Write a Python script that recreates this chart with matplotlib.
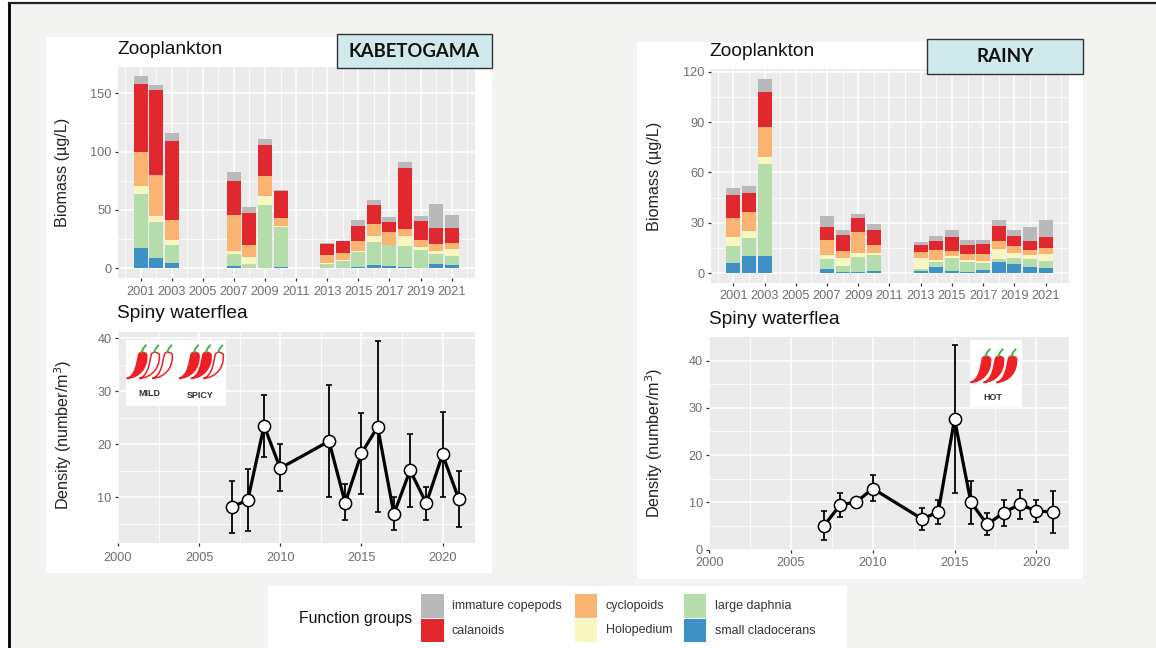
import matplotlib

matplotlib.use("Agg")
import matplotlib.pyplot as plt
import numpy as np
from matplotlib.patches import PathPatch, Rectangle
from matplotlib.path import Path
from matplotlib.transforms import blended_transform_factory

W, H = 1156, 648

# all bar values are the top of each band, bottom to top
bar_years = [2001, 2002, 2003, 2007, 2008, 2009, 2010, 2013, 2014, 2015, 2016, 2017, 2018, 2019, 2020, 2021]

kab_small = [17, 8.6, 4.3, 2.3, 0.3, 0.5, 1.2, 0.2, 0, 1.3, 3, 2, 1.3, 0.2, 3.4, 3]
kab_daphnia = [64, 40, 20, 12.6, 4, 54, 35.7, 3.7, 6.3, 13.7, 22.6, 20, 19, 16, 12.6, 10.6]
kab_holo = [71, 45, 24, 14.5, 10, 61.7, 35.9, 4.3, 7.4, 14.6, 27.4, 20.2, 27.4, 18, 15, 16.6]
kab_cyclo = [100, 80, 41, 46, 20, 79.5, 43, 11, 13, 23, 38, 31.5, 34, 24.6, 21, 21.7]
kab_calan = [158, 153, 109, 75, 47, 105.7, 66, 21, 23, 36, 54, 40, 86, 40.6, 34.4, 34.6]
kab_immature = [165, 157.5, 116, 83, 53, 111, 67.5, 21.5, 23.4, 41, 59, 44, 91, 45, 55, 46]

rainy_small = [6, 10, 10.3, 2.6, 1, 0.8, 1.4, 1.3, 4, 1.2, 1, 1.8, 6.5, 5.6, 3.8, 3.2]
rainy_daphnia = [16, 21, 65, 8.3, 4.2, 9.5, 11, 2.6, 6.5, 9, 6.6, 6, 8.5, 9, 8.7, 7]
rainy_holo = [21.8, 25, 69, 11, 9.3, 12.3, 12, 9, 8, 10.5, 7.7, 7, 14.3, 12.3, 11, 11.3]
rainy_cyclo = [32.7, 36.3, 87.3, 19.6, 13.5, 24.6, 17, 12.5, 14, 13.5, 11.3, 11.3, 19.4, 16, 14, 15]
rainy_calan = [46.4, 48, 108, 27.6, 22.8, 32.7, 26, 17, 19, 21.8, 17, 17.3, 28, 22.4, 19.4, 21.8]
rainy_immature = [50.6, 51.8, 115.5, 34.3, 25.6, 35, 29.4, 18.5, 22, 25.8, 20, 20, 31.5, 25.6, 27.6, 32]

flea_years = [2007, 2008, 2009, 2010, 2013, 2014, 2015, 2016, 2017, 2018, 2019, 2020, 2021]

kab_flea = [8.2, 9.5, 23.5, 15.5, 20.6, 9, 18.3, 23.3, 6.9, 15.1, 8.9, 18.1, 9.7]
kab_flea_low = [3.2, 3.7, 17.7, 11.2, 10, 5.7, 10.7, 7.3, 3.8, 8.2, 5.8, 10.1, 4.4]
kab_flea_high = [13.1, 15.3, 29.3, 20, 31.2, 12.5, 25.9, 39.5, 10, 22, 12, 26.2, 15]

rainy_flea = [5, 9.4, 10.1, 12.9, 6.5, 7.9, 27.6, 10, 5.3, 7.8, 9.6, 8.1, 8]
rainy_flea_low = [2, 6.8, 10.1, 10.2, 4.2, 5.4, 11.9, 5.4, 3, 4.9, 6.5, 5.8, 3.6]
rainy_flea_high = [8.1, 12, 10.1, 15.8, 8.7, 10.5, 43.2, 14.6, 7.8, 10.5, 12.7, 10.5, 12.3]

group_colors = ["#3f90c5", "#b5dcab", "#f8f7c2", "#f8b470", "#e0282e", "#b9b9b9"]

legend_labels = [
    ("immature copepods", "#b9b9b9"),
    ("calanoids", "#e0282e"),
    ("cyclopoids", "#f8b470"),
    ("Holopedium", "#f8f7c2"),
    ("large daphnia", "#b5dcab"),
    ("small cladocerans", "#3f90c5"),
]

plt.rcParams["font.family"] = ["Liberation Sans", "DejaVu Sans"]

TICK_GRAY = "#6e6e6e"


def panel_axes(fig, left, top, right, bottom, xpad):
    ax = fig.add_axes([left / W, 1 - bottom / H, (right - left) / W, (bottom - top) / H], zorder=2)
    ax.set_facecolor("#ebebeb")
    for spine in ax.spines.values():
        spine.set_visible(False)
    ax.set_axisbelow(True)
    ax.grid(which="major", color="white", lw=1.1)
    ax.grid(which="minor", color="white", lw=0.55)
    ax.tick_params(which="major", length=2.5, width=0.9, color="#333333", labelcolor=TICK_GRAY, labelsize=9.2, pad=2)
    ax.tick_params(which="major", axis="x", pad=xpad)
    ax.tick_params(which="minor", length=0)
    return ax


def y_title(ax, text, x_px, y_frac=0.5):
    ax.set_ylabel(text, fontsize=11.6, color="#222222", va="center")
    ax.yaxis.set_label_coords(x_px / W, y_frac, transform=blended_transform_factory(ax.figure.transFigure, ax.transAxes))


def draw_bars(ax, tops, x_px):
    prev = np.zeros(len(bar_years))
    for top, color in zip(tops, group_colors):
        top = np.array(top)
        ax.bar(bar_years, top - prev, bottom=prev, width=0.9, color=color, lw=0)
        prev = top
    ax.set_xticks(range(2001, 2022, 2))
    ax.set_xticks(range(2000, 2023, 2), minor=True)
    ax.set_xlim(1999.55, 2022.5)
    y_title(ax, "Biomass (µg/L)", x_px)


def draw_flea(ax, values, low, high, x_px, y_frac=0.5):
    values = np.array(values)
    yerr = [values - np.array(low), np.array(high) - values]
    ax.errorbar(flea_years, values, yerr=yerr, color="black", elinewidth=1.3, capsize=2.5, capthick=1.2, lw=0, zorder=3)
    ax.plot(flea_years, values, color="black", lw=2.3, zorder=4)
    ax.plot(flea_years, values, "o", ms=8.8, mfc="white", mec="black", mew=1.1, zorder=5)
    ax.set_xticks(range(2000, 2021, 5))
    ax.set_xticks(np.arange(2002.5, 2022, 5), minor=True)
    ax.set_xlim(2000, 2022)
    y_title(ax, "Density (number/m$^3$)", x_px, y_frac)


def chili(over, tip_x, tip_y, filled=True):
    # tip is bottom left, the body climbs to the cap 27 px higher
    pts = np.array(
        [(0, 0), (9, -3), (10, -15), (12, -24), (13, -27), (18, -27), (20, -24),
         (21, -10), (12, -1), (0, 0), (0, 0)], float)
    codes = [Path.MOVETO, Path.CURVE4, Path.CURVE4, Path.CURVE4, Path.CURVE4, Path.CURVE4, Path.CURVE4,
             Path.CURVE4, Path.CURVE4, Path.CURVE4, Path.CLOSEPOLY]
    pts += (tip_x, tip_y)
    over.add_patch(PathPatch(Path(pts, codes), fc="#ee2026" if filled else "white", ec="#ee2026", lw=1.1))
    over.plot([tip_x + 15, tip_x + 16.5, tip_x + 19], [tip_y - 26.5, tip_y - 30, tip_y - 33], color="#3fb54a", lw=1.4)


fig = plt.figure(figsize=(W / 100, H / 100), dpi=100)

# page behind the charts, in pixel coordinates
back = fig.add_axes([0, 0, 1, 1], zorder=0)
back.set_xlim(0, W)
back.set_ylim(H, 0)
back.axis("off")
back.add_patch(Rectangle((9, 3), W - 9, H - 3, fc="#f3f3f1", ec="none"))
back.plot([9, 9], [H, 3], color="black", lw=2)
back.plot([9, W], [3, 3], color="#222222", lw=1.6)
back.add_patch(Rectangle((46, 37), 446, 536, fc="white", ec="none"))
back.add_patch(Rectangle((637, 42), 446, 537, fc="white", ec="none"))
back.add_patch(Rectangle((268, 586), 579, 62, fc="white", ec="none"))

# Kabetogama
ax = panel_axes(fig, 118, 67, 475, 278, 3)
draw_bars(ax, [kab_small, kab_daphnia, kab_holo, kab_cyclo, kab_calan, kab_immature], 63)
ax.set_ylim(-8.3, 172.6)
ax.set_yticks([0, 50, 100, 150])
ax.set_yticks([25, 75, 125], minor=True)

ax = panel_axes(fig, 118, 332, 475, 543, 4)
draw_flea(ax, kab_flea, kab_flea_low, kab_flea_high, 63, 0.514)
ax.set_ylim(1.4, 41.2)
ax.set_yticks([10, 20, 30, 40])
ax.set_yticks([5, 15, 25, 35], minor=True)

# Rainy
ax = panel_axes(fig, 710.7, 69, 1069, 283, 2.5)
draw_bars(ax, [rainy_small, rainy_daphnia, rainy_holo, rainy_cyclo, rainy_calan, rainy_immature], 654)
ax.set_ylim(-5.8, 121.6)
ax.set_yticks([0, 30, 60, 90, 120])
ax.set_yticks([15, 45, 75, 105], minor=True)

ax = panel_axes(fig, 709.3, 337, 1069, 549.5, 3)
draw_flea(ax, rainy_flea, rainy_flea_low, rainy_flea_high, 654)
ax.set_ylim(0, 45)
ax.set_yticks([0, 10, 20, 30, 40])
ax.set_yticks([5, 15, 25, 35], minor=True)

# things on top of the charts, pixel coordinates again
over = fig.add_axes([0, 0, 1, 1], zorder=3)
over.set_xlim(0, W)
over.set_ylim(H, 0)
over.axis("off")

for x, y, label in [(117, 49, "Zooplankton"), (117, 313, "Spiny waterflea"), (709, 52, "Zooplankton"), (709, 319, "Spiny waterflea")]:
    over.text(x, y, label, fontsize=13.8, color="#111111", ha="left", va="center")

over.add_patch(Rectangle((337, 33.5), 155, 34.5, fc="#cfe9ec", ec="#333333", lw=1))
over.text(414, 51.5, "KABETOGAMA", fontsize=13.3, fontweight="bold", fontfamily="Lato", ha="center", va="center", color="#111111")
over.add_patch(Rectangle((927, 38.5), 156, 35, fc="#cfe9ec", ec="#333333", lw=1))
over.text(1005, 56.5, "RAINY", fontsize=13.5, fontweight="bold", fontfamily="Lato", ha="center", va="center", color="#111111")

# pepper ratings
over.add_patch(Rectangle((126, 340), 100, 66, fc="white", ec="none"))
for tip, filled in [(126.7, True), (139.3, False), (152.3, False), (179, True), (191, True), (203.3, False)]:
    chili(over, tip, 378.5, filled)
over.add_patch(Rectangle((970, 340), 52, 67, fc="white", ec="none"))
for tip in [970.5, 983.5, 996.5]:
    chili(over, tip, 382.5)
for x, y, label in [(149, 394, "MILD"), (200, 395, "SPICY"), (993, 398, "HOT")]:
    over.text(x, y, label, fontsize=6.4, fontweight="bold", color="#333333", ha="center", va="center")

# legend
over.text(299, 618, "Function groups", fontsize=11.3, color="#111111", ha="left", va="center")
legend_x = [421, 574.5, 683.5]
text_x = [452, 606, 715]
row_y = [594, 618.5]
text_y = [605.5, 630.5]
for i, (label, color) in enumerate(legend_labels):
    col, row = i // 2, i % 2
    over.add_patch(Rectangle((legend_x[col], row_y[row]), 22.5, 23.5, fc=color, ec="none"))
    over.text(text_x[col], text_y[row], label, fontsize=9, color="#333333", ha="left", va="center")

fig.savefig("out.png", dpi=100)
